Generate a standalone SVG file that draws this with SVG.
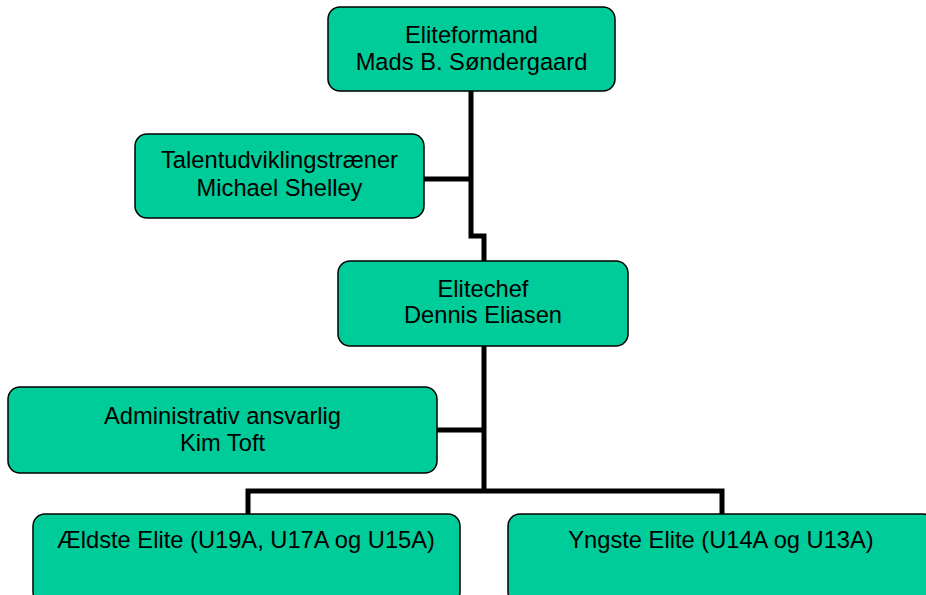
<svg xmlns="http://www.w3.org/2000/svg" width="926" height="595" viewBox="0 0 926 595">
<style>
.box{fill:#00CC99;stroke:#000;stroke-width:1.5}
.t{font-family:"Liberation Sans",Arial,sans-serif;font-size:23.7px;fill:#000;text-anchor:middle}
.c{fill:none;stroke:#000;stroke-width:5;stroke-linejoin:miter}
</style>
<rect width="926" height="595" fill="#fff"/>
<g id="connectors">
<polyline class="c" points="471,91 471,236 484,236 484,262"/>
<line class="c" x1="424" y1="179" x2="471" y2="179"/>
<line class="c" x1="484" y1="346" x2="484" y2="491"/>
<line class="c" x1="437" y1="430" x2="484" y2="430"/>
<polyline class="c" points="248,514 248,491 722,491 722,514"/>
</g>
<g id="eliteformand">
<rect class="box" x="328" y="7" width="287" height="84" rx="12"/>
<text class="t" x="471.5" y="43">Eliteformand</text>
<text class="t" x="471.5" y="70">Mads B. Søndergaard</text>
</g>
<g id="talent">
<rect class="box" x="135" y="134" width="289" height="84" rx="12"/>
<text class="t" x="279.5" y="168">Talentudviklingstræner</text>
<text class="t" x="279.5" y="196">Michael Shelley</text>
</g>
<g id="elitechef">
<rect class="box" x="338" y="261" width="290" height="85" rx="12"/>
<text class="t" x="483" y="297">Elitechef</text>
<text class="t" x="483" y="323">Dennis Eliasen</text>
</g>
<g id="admin">
<rect class="box" x="8" y="387" width="429" height="86" rx="12"/>
<text class="t" x="222.5" y="424">Administrativ ansvarlig</text>
<text class="t" x="222.5" y="451">Kim Toft</text>
</g>
<g id="aeldste">
<rect class="box" x="33" y="514" width="427" height="90" rx="12"/>
<text class="t" x="246" y="548">Ældste Elite (U19A, U17A og U15A)</text>
</g>
<g id="yngste">
<rect class="box" x="508" y="514" width="427" height="90" rx="12"/>
<text class="t" x="721" y="548">Yngste Elite (U14A og U13A)</text>
</g>
</svg>
